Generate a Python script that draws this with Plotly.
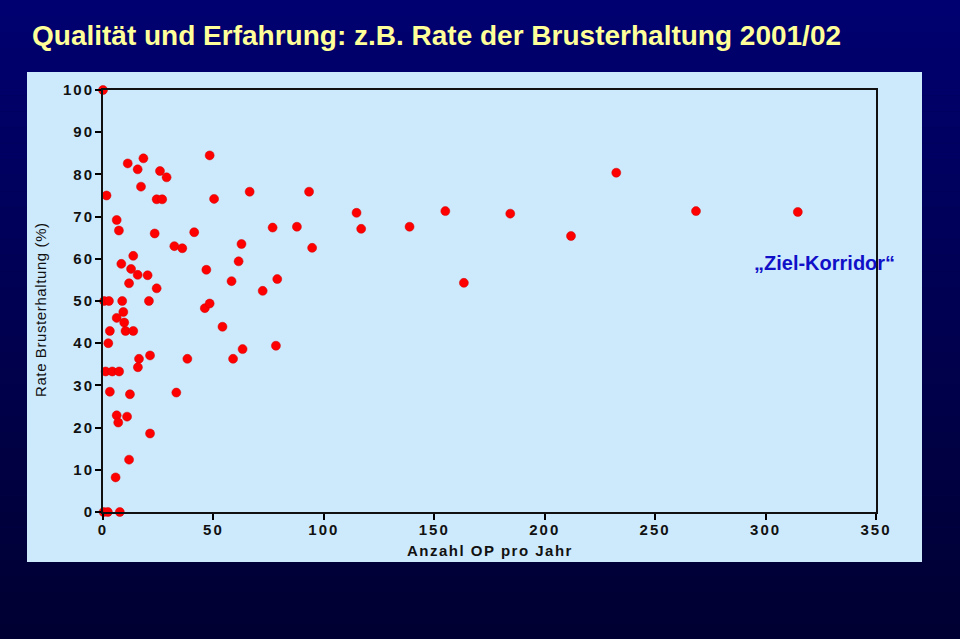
import plotly.graph_objects as go

# Data
op_pro_jahr = [0, 1.6, 11.2, 18.3, 15.7, 25.8, 28.8, 17.2, 24.3, 26.8,
               48.3, 50.3, 66.4, 93.3, 6.2, 7.2, 23.4, 41.3, 76.8, 87.8,
               32.3, 35.9, 62.7, 94.7, 13.7, 8.3, 61.4, 12.7, 46.8, 15.7,
               20.2, 11.8, 58.2, 78.9, 24.3, 72.3, 0.5, 2.7, 8.7, 20.8,
               9.2, 6.2, 9.6, 3.1, 10.2, 13.7, 46.1, 48.3, 54.1, 2.4,
               16.3, 15.8, 21.3, 38.2, 58.9, 63.2, 78.3, 1.2, 4.2, 7.3,
               3.1, 12.2, 33.2, 6.2, 6.9, 10.9, 21.3, 11.8, 5.7, 0.3,
               2.2, 7.6, 114.8, 155.0, 184.4, 116.9, 138.8, 163.4, 232.4, 268.5,
               314.6, 211.9]
rate_brusterhaltung = [100, 75.0, 82.6, 83.8, 81.2, 80.8, 79.3, 77.1, 74.1, 74.1,
                       84.5, 74.2, 75.9, 75.9, 69.2, 66.7, 66.0, 66.3, 67.4, 67.6,
                       63.0, 62.5, 63.5, 62.6, 60.7, 58.8, 59.4, 57.6, 57.4, 56.2,
                       56.1, 54.2, 54.7, 55.2, 53.0, 52.4, 50, 50, 50, 50,
                       47.4, 46.0, 44.9, 42.9, 42.9, 42.9, 48.3, 49.4, 43.9, 40.0,
                       36.3, 34.3, 37.1, 36.3, 36.3, 38.6, 39.4, 33.3, 33.3, 33.3,
                       28.5, 27.9, 28.3, 22.9, 21.2, 22.6, 18.6, 12.4, 8.2, 0,
                       0, 0, 70.9, 71.3, 70.7, 67.1, 67.6, 54.3, 80.4, 71.3,
                       71.1, 65.4]

x_ticks = [0, 50, 100, 150, 200, 250, 300, 350]
y_ticks = [0, 10, 20, 30, 40, 50, 60, 70, 80, 90, 100]

title_text = "Qualität und Erfahrung: z.B. Rate der Brusterhaltung 2001/02"
x_title = "Anzahl OP pro Jahr"
y_title = "Rate Brusterhaltung (%)"
annotation_text = "„Ziel-Korridor“"

W, H = 960, 639
panel_color = "#cdeafc"


def spaced(s, px):
    return '<span style="letter-spacing:%spx">%s</span>' % (px, s)


fig = go.Figure()
fig.add_trace(go.Scatter(
    x=op_pro_jahr, y=rate_brusterhaltung, mode="markers",
    marker=dict(color="#ff0000", size=9, line=dict(color="#d00000", width=0.5)),
    cliponaxis=False, showlegend=False, hoverinfo="x+y"))

# background gradient stripes (navy)
shapes = []
n = 40
top_c = (0, 0, 112)
bot_c = (0, 0, 50)
for i in range(n):
    t = i / (n - 1)
    c = tuple(int(round(top_c[k] + (bot_c[k] - top_c[k]) * t)) for k in range(3))
    shapes.append(dict(type="rect", xref="paper", yref="paper", x0=0, x1=1,
                       y0=1 - (i + 1) / n, y1=1 - i / n, line=dict(width=0),
                       fillcolor="rgb(%d,%d,%d)" % c, layer="below"))
# light blue panel
shapes.append(dict(type="rect", xref="paper", yref="paper",
                   x0=27 / W, x1=922 / W, y0=1 - 562 / H, y1=1 - 72 / H,
                   line=dict(width=0), fillcolor=panel_color, layer="below"))

font_main = "Liberation Sans, Arial, sans-serif"

fig.update_layout(
    width=W, height=H,
    margin=dict(l=0, r=0, t=0, b=0, autoexpand=False),
    paper_bgcolor="#000050",
    plot_bgcolor=panel_color,
    shapes=shapes,
    xaxis=dict(domain=[103 / W, 876 / W], range=[0, 350],
               tickvals=x_ticks, ticktext=[spaced(v, 2) for v in x_ticks],
               ticks="outside", ticklen=6, tickwidth=1.5, tickcolor="#000",
               ticklabelstandoff=-3,
               showline=True, linecolor="#111", linewidth=2, mirror=True,
               showgrid=False, zeroline=False, automargin=False,
               tickfont=dict(family=font_main, size=15, color="#111", weight="bold")),
    yaxis=dict(domain=[1 - 512 / H, 1 - 90 / H], range=[0, 100],
               tickvals=y_ticks, ticktext=[spaced(v, 2) for v in y_ticks],
               ticks="outside", ticklen=6, tickwidth=1.5, tickcolor="#000",
               ticklabelstandoff=-2,
               showline=True, linecolor="#111", linewidth=2, mirror=True,
               showgrid=False, zeroline=False, automargin=False,
               tickfont=dict(family=font_main, size=15, color="#111", weight="bold")),
    annotations=[
        dict(text=title_text, xref="paper", yref="paper", x=30 / W, y=1 - 35 / H,
             xanchor="left", yanchor="middle", showarrow=False,
             font=dict(family=font_main, size=28, color="#ffff99", weight="bold")),
        dict(text=annotation_text, xref="paper", yref="paper", x=824 / W, y=1 - 263 / H,
             xanchor="center", yanchor="middle", showarrow=False,
             font=dict(family=font_main, size=20, color="#1010c8", weight="bold")),
        dict(text=spaced(x_title, 1.5), xref="paper", yref="paper", x=490 / W, y=1 - 550 / H,
             xanchor="center", yanchor="middle", showarrow=False,
             font=dict(family=font_main, size=15, color="#111", weight="bold")),
        dict(text=spaced(y_title, 0.6), xref="paper", yref="paper", x=40 / W, y=1 - 310 / H,
             xanchor="center", yanchor="middle", showarrow=False, textangle=-90,
             font=dict(family=font_main, size=15, color="#111")),
    ],
)

post = (
    "document.documentElement.style.margin='0';"
    "document.body.style.margin='0';"
    "document.body.style.overflow='hidden';"
    "var d=document.querySelector('.plotly-graph-div');"
    "if(d){d.style.position='fixed';d.style.top='0px';d.style.left='0px';}"
)
fig.write_html("out.html", post_script=post, config={"displayModeBar": False})
